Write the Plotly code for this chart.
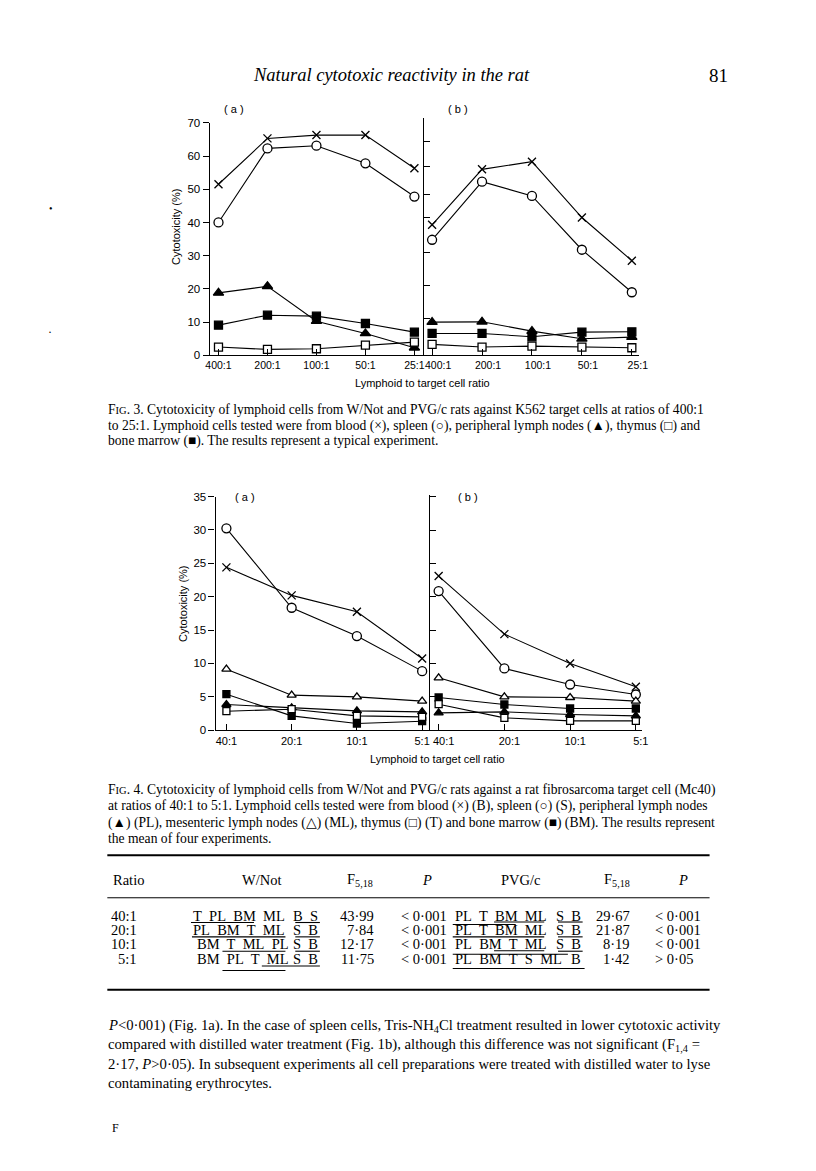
import plotly.graph_objects as go

W, H = 816, 1171

# ---- Fig. 3 (K562 targets), cytotoxicity %
ratios3 = ["400:1", "200:1", "100:1", "50:1", "25:1"]
f3a_blood = [51.5, 65.3, 66.3, 66.3, 56.3]
f3a_spleen = [40.0, 62.3, 63.1, 57.8, 47.8]
f3a_pln = [18.8, 20.8, 10.3, 6.6, 2.3]
f3a_bm = [9.1, 12.1, 11.8, 9.6, 7.0]
f3a_thymus = [2.5, 1.8, 2.0, 3.1, 4.0]

f3b_blood = [39.3, 56.0, 58.3, 41.5, 28.5]
f3b_spleen = [34.8, 52.3, 48.0, 31.8, 19.0]
f3b_pln = [10.0, 10.1, 7.3, 5.0, 5.5]
f3b_bm = [6.6, 6.6, 5.6, 7.0, 7.1]
f3b_thymus = [3.3, 2.5, 2.8, 2.5, 2.3]

# ---- Fig. 4 (Mc40 targets)
ratios4 = ["40:1", "20:1", "10:1", "5:1"]
f4a_blood = [24.4, 20.2, 17.75, 10.75]
f4a_spleen = [30.25, 18.35, 14.1, 8.85]
f4a_mln = [9.15, 5.25, 5.0, 4.35]
f4a_bm = [5.4, 2.15, 1.0, 1.35]
f4a_pln = [3.85, 3.35, 2.9, 2.75]
f4a_thymus = [2.85, 3.15, 2.15, 2.0]

f4b_blood = [23.1, 14.4, 10.0, 6.5]
f4b_spleen = [20.85, 9.25, 6.85, 5.35]
f4b_mln = [7.85, 5.0, 4.9, 4.35]
f4b_bm = [4.9, 3.85, 3.25, 3.25]
f4b_thymus = [3.9, 1.85, 1.4, 1.4]
f4b_pln = [2.6, 2.75, 2.35, 2.15]

# ---- table
tab_ratio = ["40:1", "20:1", "10:1", "5:1"]
wnot_main = ["T PL BM ML", "PL BM T ML", "BM T ML PL", "BM PL T ML"]
wnot_end = ["B S", "S B", "S B", "S B"]
wnot_f = ["43·99", "7·84", "12·17", "11·75"]
wnot_p = ["&lt; 0·001", "&lt; 0·001", "&lt; 0·001", "&lt; 0·001"]
pvg_main = ["PL T BM ML", "PL T BM ML", "PL BM T ML", "PL BM T S ML"]
pvg_end = ["S B", "S B", "S B", "B"]
pvg_f = ["29·67", "21·87", "8·19", "1·42"]
pvg_p = ["&lt; 0·001", "&lt; 0·001", "&lt; 0·001", "&gt; 0·05"]


def px(x):
    return x / W


def py(y):
    return 1 - y / H


SANS = "Liberation Sans"
SERIF = "Liberation Serif"

fig = go.Figure()


def series(xs, ys, ax, symbol, size, fill):
    fig.add_trace(go.Scatter(
        x=xs, y=ys, xaxis="x" + ax, yaxis="y" + ax, mode="lines+markers",
        line=dict(color="black", width=1.1),
        marker=dict(symbol=symbol, size=size, color=fill,
                    line=dict(color="black", width=1.3)),
        cliponaxis=False, showlegend=False, hoverinfo="skip"))


# fig 3
series(ratios3, f3a_blood, "", "x-thin", 8, "black")
series(ratios3, f3a_spleen, "", "circle", 9, "white")
series(ratios3, f3a_pln, "", "triangle-up", 9, "black")
series(ratios3, f3a_bm, "", "square", 8, "black")
series(ratios3, f3a_thymus, "", "square", 8, "white")
series(ratios3, f3b_blood, "2", "x-thin", 8, "black")
series(ratios3, f3b_spleen, "2", "circle", 9, "white")
series(ratios3, f3b_pln, "2", "triangle-up", 9, "black")
series(ratios3, f3b_bm, "2", "square", 8, "black")
series(ratios3, f3b_thymus, "2", "square", 8, "white")
# fig 4
series(ratios4, f4a_blood, "3", "x-thin", 8, "black")
series(ratios4, f4a_spleen, "3", "circle", 9, "white")
series(ratios4, f4a_mln, "3", "triangle-up", 8, "white")
series(ratios4, f4a_bm, "3", "square", 7, "black")
series(ratios4, f4a_pln, "3", "triangle-up", 8, "black")
series(ratios4, f4a_thymus, "3", "square", 7, "white")
series(ratios4, f4b_blood, "4", "x-thin", 8, "black")
series(ratios4, f4b_spleen, "4", "circle", 9, "white")
series(ratios4, f4b_mln, "4", "triangle-up", 8, "white")
series(ratios4, f4b_bm, "4", "square", 7, "black")
series(ratios4, f4b_thymus, "4", "square", 7, "white")
series(ratios4, f4b_pln, "4", "triangle-up", 8, "black")


def xax(dom, rng, anchor, fs, shift=0):
    return dict(type="category", domain=[px(dom[0]), px(dom[1])], range=rng, anchor=anchor,
                showline=True, linecolor="black", linewidth=1.2, ticks="inside", ticklen=6,
                tickcolor="black", tickwidth=1.1, showgrid=False, zeroline=False,
                tickfont=dict(family=SANS, size=fs, color="black"),
                ticklabelshift=shift, fixedrange=True)


def yax(top, bottom, rng, anchor, labels, fs=11.5, **kw):
    d = dict(domain=[py(bottom), py(top)], range=rng, anchor=anchor, showline=True,
             linecolor="black", linewidth=1.2, ticks="outside" if labels else "inside",
             ticklen=6, tickcolor="black", tickwidth=1.1, showgrid=False, zeroline=False,
             showticklabels=labels, tickfont=dict(family=SANS, size=fs, color="black"),
             fixedrange=True)
    d.update(kw)
    return d


layout = dict(
    width=W, height=H, autosize=False, margin=dict(l=0, r=0, t=0, b=0),
    paper_bgcolor="white", plot_bgcolor="rgba(0,0,0,0)",
    xaxis=xax((209, 427), [-0.18, 4.2], "y", 10.5),
    yaxis=yax(118, 353, [0, 70], "x", True, dtick=10),
    xaxis2=xax((427, 645), [-0.158, 4.138], "y2", 10.5, 6),
    yaxis2=yax(113, 353, [0, 71.5], "x2", False,
               tickmode="array", tickvals=[11, 21, 31, 41.5, 48.5, 57, 64.5]),
    xaxis3=xax((215, 433), [-0.166, 3.122], "y3", 11),
    yaxis3=yax(495.7, 731.7, [0, 35], "x3", True, dtick=5),
    xaxis4=xax((433, 648), [-0.13, 3.089], "y4", 11, 5),
    yaxis4=yax(493.7, 731.7, [0, 35.3], "x4", False, dtick=5),
)
fig.update_layout(**layout)

ann = []


def text(x, y, s, size, family=SERIF, anchor="left", angle=0):
    ann.append(dict(x=px(x), y=py(y), xref="paper", yref="paper", text=s, showarrow=False,
                    xanchor=anchor, yanchor="middle", textangle=angle,
                    font=dict(family=family, size=size, color="black")))


# running head
text(394, 70, "<i>Natural cytotoxic reactivity in the rat</i>", 18.5, anchor="center")
text(738, 70, "81", 19, anchor="right")

# chart labels
text(234, 104, "( a )", 11, SANS, "center")
text(461, 104, "( b )", 11, SANS, "center")
text(175, 223, "Cytotoxicity (%)", 11, SANS, "center", -90)
text(425, 381, "Lymphoid to target cell ratio", 11, SANS, "center")
text(245, 496, "( a )", 11, SANS, "center")
text(472, 496, "( b )", 11, SANS, "center")
text(182, 604, "Cytotoxicity (%)", 11, SANS, "center", -90)
text(441, 761, "Lymphoid to target cell ratio", 11, SANS, "center")

SC = "<span style='font-size:10.5px'>IG</span>"
cap3 = [
    "F" + SC + ". 3. Cytotoxicity of lymphoid cells from W/Not and PVG/c rats against K562 target cells at ratios of 400:1",
    "to 25:1. Lymphoid cells tested were from blood (×), spleen (○), peripheral lymph nodes (▲), thymus (□) and",
    "bone marrow (■). The results represent a typical experiment.",
]
for i, s in enumerate(cap3):
    text(104, 408 + 16 * i, s, 13.6)

cap4 = [
    "F" + SC + ". 4. Cytotoxicity of lymphoid cells from W/Not and PVG/c rats against a rat fibrosarcoma target cell (Mc40)",
    "at ratios of 40:1 to 5:1. Lymphoid cells tested were from blood (×) (B), spleen (○) (S), peripheral lymph nodes",
    "(▲) (PL), mesenteric lymph nodes (△) (ML), thymus (□) (T) and bone marrow (■) (BM). The results represent",
    "the mean of four experiments.",
]
for i, s in enumerate(cap4):
    text(104, 792 + 16.5 * i, s, 13.6)

# table
TS = 14.5
GAP = "&nbsp; "
text(109, 883, "Ratio", TS)
text(262, 883, "W/Not", TS, anchor="center")
text(362, 883, "F<sub>5,18</sub>", TS, anchor="center")
text(430, 883, "<i>P</i>", TS, anchor="center")
text(525, 883, "PVG/c", TS, anchor="center")
text(623, 883, "F<sub>5,18</sub>", TS, anchor="center")
text(690, 883, "<i>P</i>", TS, anchor="center")
rows_y = [919, 933.5, 948, 962.5]
for i, y in enumerate(rows_y):
    text(137, y, tab_ratio[i], TS, anchor="right")
    text(190 if i < 2 else 194, y, wnot_main[i].replace(" ", GAP), TS)
    text(321, y, wnot_end[i].replace(" ", GAP), TS, anchor="right")
    text(378, y, wnot_f[i], TS, anchor="right")
    text(401, y, wnot_p[i], TS)
    text(456, y, pvg_main[i].replace(" ", GAP), TS)
    text(588, y, pvg_end[i].replace(" ", GAP), TS, anchor="right")
    text(638, y, pvg_f[i], TS, anchor="right")
    text(660, y, pvg_p[i], TS)

# paragraph
para = [
    "<i>P</i>&lt;0·001) (Fig. 1a). In the case of spleen cells, Tris-NH<sub>4</sub>Cl treatment resulted in lower cytotoxic activity",
    "compared with distilled water treatment (Fig. 1b), although this difference was not significant (F<sub>1,4</sub> =",
    "2·17, <i>P</i>&gt;0·05). In subsequent experiments all cell preparations were treated with distilled water to lyse",
    "contaminating erythrocytes.",
]
for i, s in enumerate(para):
    text(104, 1031 + 19 * i, s, 14.7)
text(108, 1134, "F", 12)
text(48, 205, "•", 10, anchor="center")
text(47, 329, "·", 12, anchor="center")

fig.update_layout(annotations=ann)

# table rules and significance underlines
shapes = []


def hline(x0, x1, y, w=1.0):
    shapes.append(dict(type="line", xref="paper", yref="paper", x0=px(x0), x1=px(x1),
                       y0=py(y), y1=py(y), line=dict(color="black", width=w)))


hline(105, 717, 858, 2.0)
hline(105, 717, 901, 1.0)
hline(105, 717, 994, 2.0)
# (x0, x1, row, offset below row centre)
for x0, x1, r, dy in [(190, 254, 0, 7), (296, 321, 0, 7), (191, 286, 1, 7), (296, 321, 1, 7),
                      (222, 286, 2, 7), (296, 321, 2, 7), (262, 321, 3, 7.5), (222, 286, 3, 12),
                      (498, 549, 0, 6.5), (563, 588, 0, 6.5), (456, 520, 0, 9), (456, 549, 1, 7),
                      (563, 588, 1, 7), (498, 549, 2, 6.5), (563, 588, 2, 7), (456, 573, 2, 10),
                      (456, 590, 3, 10)]:
    hline(x0, x1, rows_y[r] + dy, 1.1)
fig.update_layout(shapes=shapes)

fig.write_html("out.html", config={"displayModeBar": False},
               post_script="document.body.style.margin='0px';")
